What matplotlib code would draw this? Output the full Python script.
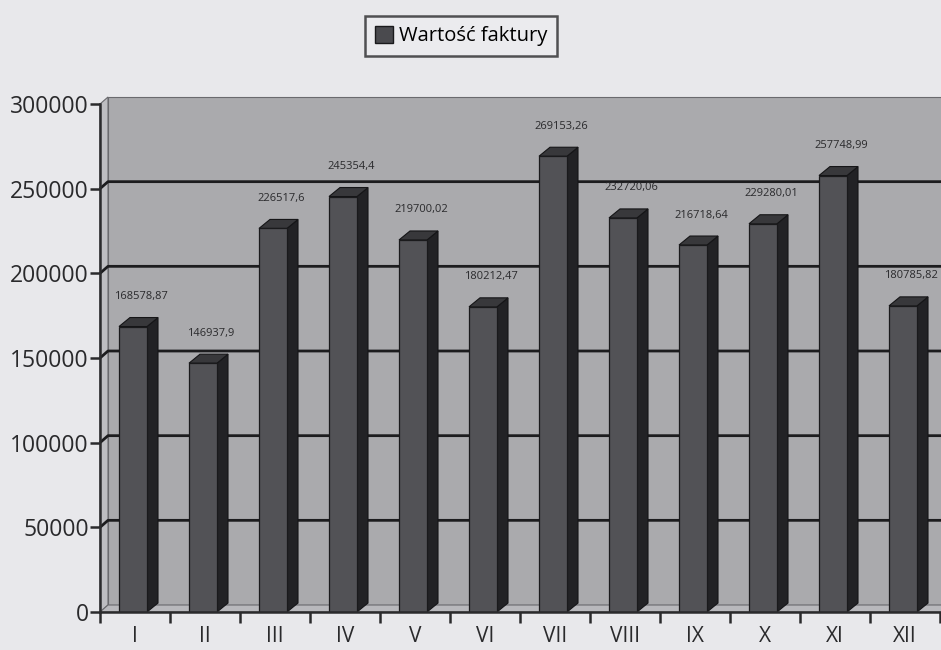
import numpy as np
import matplotlib
matplotlib.use('Agg')
import matplotlib.pyplot as plt
from matplotlib.patches import Polygon, Rectangle

months = ['I', 'II', 'III', 'IV', 'V', 'VI', 'VII', 'VIII', 'IX', 'X', 'XI', 'XII']
values = [168578.87, 146937.9, 226517.6, 245354.4, 219700.02, 180212.47,
          269153.26, 232720.06, 216718.64, 229280.01, 257748.99, 180785.82]
value_labels = ['168578,87', '146937,9', '226517,6', '245354,4', '219700,02', '180212,47',
                '269153,26', '232720,06', '216718,64', '229280,01', '257748,99', '180785,82']
y_ticks = [0, 50000, 100000, 150000, 200000, 250000, 300000]
series_name = 'Wartość faktury'

plt.rcParams['font.family'] = ['Open Sans', 'DejaVu Sans']

W, H = 941, 650
fig = plt.figure(figsize=(W / 100, H / 100), dpi=100)
fig.patch.set_facecolor('#e8e8eb')

# axes area in pixels: x 100..940, y 104..612
ax = fig.add_axes([100 / W, (H - 612) / H, 840 / W, 508 / H])
ax.set_xlim(-0.5, 11.5)
ax.set_ylim(0, 300000)
ax.set_facecolor('none')

px = 1 / 70.0            # one pixel in x data units
py = 300000 / 508.0      # one pixel in y data units

# 3D walls
wx, wy = 8 * px, 7 * py
x0, x1 = -0.5, 11.5
ax.add_patch(Rectangle((x0 + wx, wy), x1 - x0 + 1, 300000, facecolor='#aaaaad',
                       edgecolor='#6a6a6e', lw=0.8, zorder=0, clip_on=False))
ax.add_patch(Polygon([(x0, 0), (x0 + wx, wy), (x0 + wx, 300000 + wy), (x0, 300000)],
                     closed=True, facecolor='#bdbdc1', edgecolor='#6a6a6e', lw=0.8,
                     zorder=0.5, clip_on=False))
ax.add_patch(Polygon([(x0, 0), (x1 + 1, 0), (x1 + 1 + wx, wy), (x0 + wx, wy)],
                     closed=True, facecolor='#b8b8bc', edgecolor='#6a6a6e', lw=0.8,
                     zorder=0.5, clip_on=False))

for v in y_ticks[1:-1]:
    ax.plot([x0, x0 + wx, x1 + 1], [v, v + wy, v + wy], color='#1c1c1e', lw=2.0,
            zorder=1, clip_on=False, solid_capstyle='butt')

# bars with front, side and top faces
dx, dy = 11 * px, 9 * py
bw = 0.4
for i, v in enumerate(values):
    left = i - 16 * px
    right = left + bw
    ax.add_patch(Polygon([(right, 0), (right + dx, dy), (right + dx, v + dy), (right, v)],
                         closed=True, facecolor='#222225', edgecolor='#151517', lw=0.8, zorder=3))
    ax.add_patch(Polygon([(left, v), (right, v), (right + dx, v + dy), (left + dx, v + dy)],
                         closed=True, facecolor='#38383b', edgecolor='#151517', lw=0.8, zorder=3))
    ax.bar(i - 16 * px, v, width=bw, align='edge', color='#525256',
           edgecolor='#1a1a1c', linewidth=0.9, zorder=4)
    ax.text(i + 6 * px, v + dy + 21 * py, value_labels[i], ha='center', va='center',
            fontsize=8, color='#2a2a2c', zorder=5)

# axes styling
for s in ['top', 'right']:
    ax.spines[s].set_visible(False)
ax.spines['left'].set_color('#2a2a2c')
ax.spines['bottom'].set_color('#2a2a2c')
ax.spines['left'].set_linewidth(1.8)
ax.spines['bottom'].set_linewidth(1.8)
ax.spines['bottom'].set_zorder(6)

ax.set_yticks(y_ticks)
ax.set_yticklabels([str(t) for t in y_ticks], fontsize=16.5, color='#2a2a2c')
ax.tick_params(axis='y', length=7, width=1.8, color='#2a2a2c', pad=1)

ax.set_xticks(np.arange(-0.5, 12, 1.0))
ax.set_xticklabels([])
ax.set_xticks(np.arange(len(months)), minor=True)
ax.set_xticklabels(months, minor=True, fontsize=15, color='#2a2a2c')
ax.tick_params(axis='x', which='major', length=8, width=1.8, color='#2a2a2c')
ax.tick_params(axis='x', which='minor', length=0, pad=10)

# legend
handle = Rectangle((0, 0), 1, 1, facecolor='#4a4a4e', edgecolor='#1a1a1c', lw=1)
leg = fig.legend([handle], [series_name], loc='center', bbox_to_anchor=(461 / W, 1 - 36 / H),
                 fontsize=14.5, frameon=True, fancybox=False, handlelength=0.9,
                 handleheight=0.9, handletextpad=0.3, borderpad=0.5)
leg.get_frame().set_edgecolor('#2a2a2c')
leg.get_frame().set_linewidth(1.8)
leg.get_frame().set_facecolor('#ececef')

fig.savefig('out.png', dpi=100, facecolor=fig.get_facecolor())
